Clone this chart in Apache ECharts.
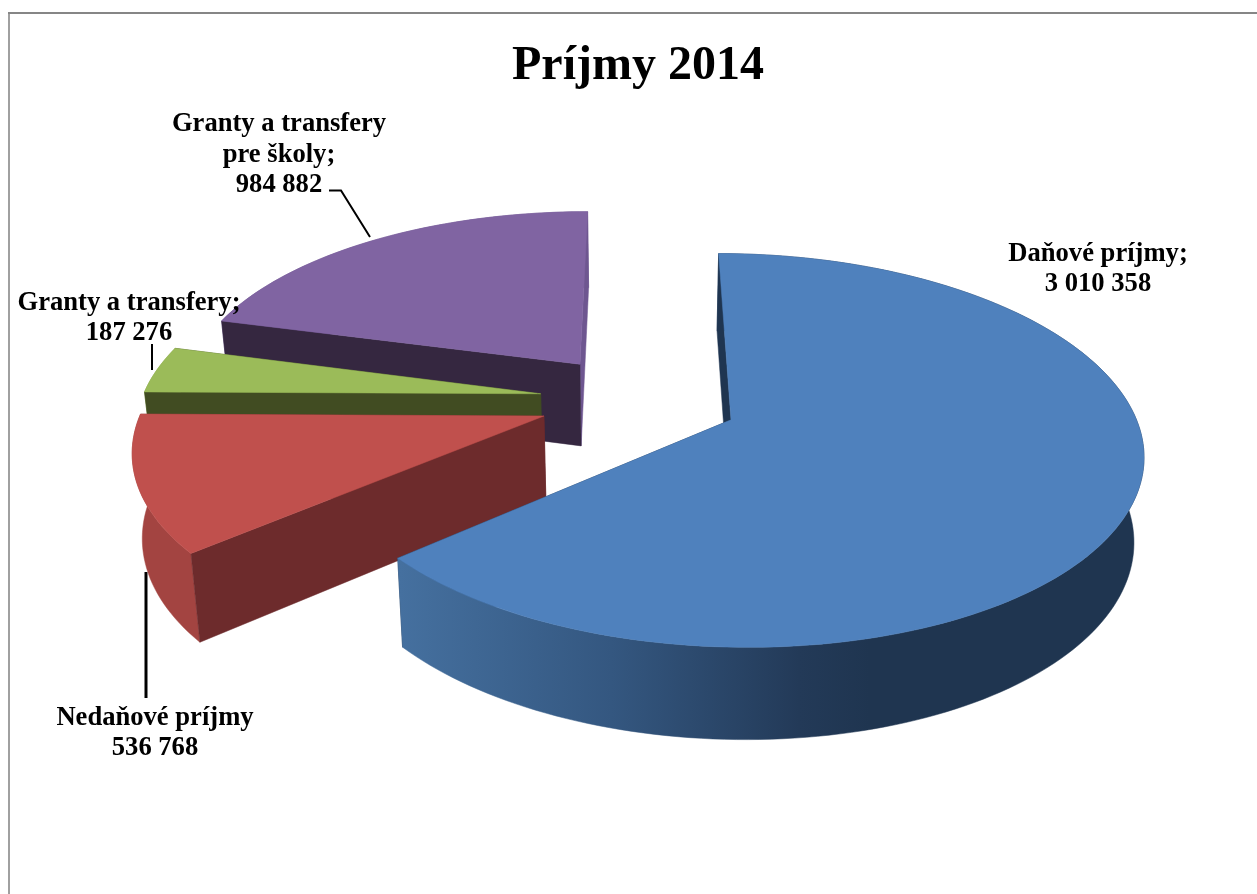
<!DOCTYPE html>
<html>
<head>
<meta charset="utf-8">
<style>
  html, body { margin: 0; padding: 0; background: #fff; }
  #chart { width: 1257px; height: 894px; }
</style>
<script src="https://cdn.jsdelivr.net/npm/echarts@6/dist/echarts.min.js"></script>
</head>
<body>
<div id="chart"></div>
<script>
const categories = ["Daňové príjmy", "Nedaňové príjmy", "Granty a transfery", "Granty a transfery pre školy"];
const values = [3010358, 536768, 187276, 984882];
const labelNames = ["Daňové príjmy;", "Nedaňové príjmy", "Granty a transfery;", "Granty a transfery\npre školy;"];

const topColors = ["#4f81bd", "#c0504d", "#9bbb59", "#8064a2"];
const wallColors = ["#1f3550", "#6d2b2c", "#414c22", "#352740"];
const rimColors = ["#1f3550", "#a34441", "#8aa64e", "#6e5690"];
const labelBoxes = [[1098, 269], [155, 733], [129, 318], [279, 155]];

// projection of the tilted pie, fitted by eye to the picture
const cx = 639, cy = 400, rx = 399, ry = 186;
const persp = 0.153, depth = 83, shrink = 0.98;
const explode = 0.25, startDeg = 0;

const total = values.reduce((a, b) => a + b, 0);

function project(X, Y, bottom) {
  const s = 1 / (1 - persp * Y);
  if (bottom) return [cx + rx * X * s * shrink, cy + ry * Y * s + depth * (0.45 + 0.55 * s)];
  return [cx + rx * X * s, cy + ry * Y * s];
}

function sliceGeometry(index) {
  const before = values.slice(0, index).reduce((a, b) => a + b, 0);
  const a0 = (startDeg + before / total * 360) * Math.PI / 180;
  const a1 = (startDeg + (before + values[index]) / total * 360) * Math.PI / 180;
  const mid = (a0 + a1) / 2;
  const ox = Math.sin(mid) * explode, oy = -Math.cos(mid) * explode;
  const arc = [];
  const steps = Math.max(8, Math.ceil((a1 - a0) * 40));
  for (let k = 0; k <= steps; k++) {
    const a = a0 + (a1 - a0) * k / steps;
    arc.push([ox + Math.sin(a), oy - Math.cos(a)]);
  }
  return { ox, oy, arc };
}

function renderSlice(params, api) {
  const i = api.value(0);
  const g = sliceGeometry(i);
  const base = (4 - i) * 10;
  const tp = p => project(p[0], p[1], false);
  const bt = p => project(p[0], p[1], true);
  const apex = [g.ox, g.oy];
  const first = g.arc[0], last = g.arc[g.arc.length - 1];

  let rimFill = rimColors[i];
  if (i === 0) {
    rimFill = new echarts.graphic.LinearGradient(400, 0, 870, 0, [
      { offset: 0, color: "#45709f" },
      { offset: 0.45, color: "#345780" },
      { offset: 0.85, color: "#233a58" },
      { offset: 1, color: "#1f3550" }
    ], true);
  }

  const poly = (points, fill, z) => ({
    type: "polygon",
    z2: base + z,
    silent: true,
    shape: { points },
    style: { fill, stroke: fill, lineWidth: 0.5 }
  });

  return {
    type: "group",
    children: [
      poly([tp(last), tp(apex), bt(apex), bt(last)], i === 3 ? rimColors[3] : wallColors[i], 1),
      poly(g.arc.map(tp).concat(g.arc.slice().reverse().map(bt)), rimFill, 2),
      poly([tp(first), tp(apex), bt(apex), bt(first)], wallColors[i], 3),
      poly([tp(apex)].concat(g.arc.map(tp)), topColors[i], 4)
    ]
  };
}

function fmt(v) {
  return String(v).replace(/\B(?=(\d{3})+$)/g, " ");
}

const labelGraphics = labelNames.map((name, i) => ({
  type: "text",
  x: labelBoxes[i][0],
  y: labelBoxes[i][1],
  z: 20,
  silent: true,
  style: {
    text: name + "\n" + fmt(values[i]),
    font: "bold 26.6px 'Liberation Serif'",
    fill: "#000",
    align: "center",
    verticalAlign: "middle",
    lineHeight: 30.5
  }
}));

const leaders = [
  { pts: [[146, 572], [146, 698]], w: 3 },
  { pts: [[152, 344], [152, 370]], w: 2 },
  { pts: [[329, 190.5], [341, 190.5], [370, 237]], w: 2 }
];
const leaderGraphics = leaders.map(l => ({
  type: "polyline",
  z: 1,
  silent: true,
  shape: { points: l.pts },
  style: { stroke: "#000", lineWidth: l.w, fill: null }
}));

const frameGraphics = [
  { type: "line", silent: true, shape: { x1: 9, y1: 13, x2: 9, y2: 894 }, style: { stroke: "#a0a0a0", lineWidth: 2 } },
  { type: "line", silent: true, shape: { x1: 8, y1: 13, x2: 1257, y2: 13 }, style: { stroke: "#868686", lineWidth: 2 } }
];

const chart = echarts.init(document.getElementById("chart"), null, { renderer: "canvas" });
chart.setOption({
  backgroundColor: "#fff",
  animation: false,
  title: {
    text: "Príjmy 2014",
    left: 633,
    top: 38,
    textAlign: "center",
    textStyle: { fontFamily: "Liberation Serif", fontWeight: "bold", fontSize: 48, color: "#000" }
  },
  tooltip: { show: false },
  graphic: { elements: frameGraphics.concat(leaderGraphics, labelGraphics) },
  series: [{
    type: "custom",
    coordinateSystem: "none",
    z: 5,
    renderItem: renderSlice,
    data: values.map((v, i) => ({ name: categories[i], value: [i, v] }))
  }]
});
</script>
</body>
</html>
